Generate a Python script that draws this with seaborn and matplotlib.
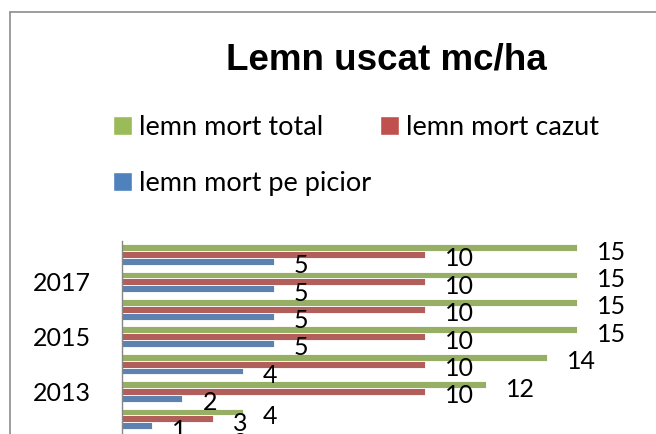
import pandas as pd
import seaborn as sns
import matplotlib.pyplot as plt
from matplotlib.patches import Patch
from matplotlib.lines import Line2D

years = ['2018', '2017', '2016', '2015', '2014', '2013', '2012', '2011']
pe_picior = [5, 5, 5, 5, 4, 2, 1, 1]
cazut = [10, 10, 10, 10, 10, 10, 3, 2]
total = [15, 15, 15, 15, 14, 12, 4, 3]

series = ['lemn mort total', 'lemn mort cazut', 'lemn mort pe picior']
colors = ['#9BBB59', '#C0504D', '#4F81BD']

df = pd.DataFrame({
    'an': years * 3,
    'valoare': total + cazut + pe_picior,
    'serie': [series[0]] * 8 + [series[1]] * 8 + [series[2]] * 8,
})

sns.set_style('white')
plt.rcParams['font.family'] = ['Lato', 'DejaVu Sans']
plt.rcParams['text.color'] = 'black'
plt.rcParams['ytick.color'] = 'black'

fig = plt.figure(figsize=(6.56, 4.34), dpi=100)
ax = fig.add_axes([121.7 / 656, 1 - 460 / 434, 486 / 656, 8 * 27.4 / 434])

sns.barplot(data=df, x='valoare', y='an', hue='serie', order=years,
            hue_order=series, palette=colors, orient='h', width=0.75,
            edgecolor='white', linewidth=0.6, legend=False, ax=ax)

for cont in ax.containers:
    for bar in cont:
        w = bar.get_width()
        yc = bar.get_y() + bar.get_height() / 2
        ax.annotate(f'{w:g}', (w, yc), xytext=(14.4, -3.2),
                    textcoords='offset points', ha='left', va='center',
                    fontsize=18, color='black')

ax.set_xlim(0, 16)
ax.set_xticks([])
ax.set_yticks(range(len(years)))
ax.set_yticklabels([y if int(y) % 2 else '' for y in years], fontsize=18)
ax.tick_params(axis='y', length=0, pad=22)
ax.set_xlabel('')
ax.set_ylabel('')
for s in ['top', 'right', 'bottom']:
    ax.spines[s].set_visible(False)
ax.spines['left'].set_color('#868686')
ax.spines['left'].set_linewidth(1)

fig.text(386 / 656, 1 - 70 / 434, 'Lemn uscat mc/ha', ha='center',
         va='baseline', fontsize=26.5, fontweight='bold', color='black',
         family=['Liberation Sans', 'DejaVu Sans'])

handles = [Patch(facecolor=colors[0], label=series[0]),
           Patch(facecolor=colors[2], label=series[2]),
           Patch(facecolor=colors[1], label=series[1])]
fig.legend(handles=handles, loc='upper left',
           bbox_to_anchor=(113 / 656, 1 - 115 / 434), ncol=2, frameon=False,
           fontsize=19.5, handlelength=0.72, handleheight=0.72,
           handletextpad=0.25, labelspacing=1.15, columnspacing=0.3,
           borderpad=0, borderaxespad=0)

# chart area border (right and bottom fall outside the picture)
fig.add_artist(Line2D([10 / 656, 10 / 656], [-0.1, 1 - 11.5 / 434],
                      color='#8c8c8c', lw=1.2, transform=fig.transFigure))
fig.add_artist(Line2D([10 / 656, 1.1], [1 - 11.5 / 434, 1 - 11.5 / 434],
                      color='#8c8c8c', lw=1.2, transform=fig.transFigure))

fig.savefig('out.png', dpi=100)
